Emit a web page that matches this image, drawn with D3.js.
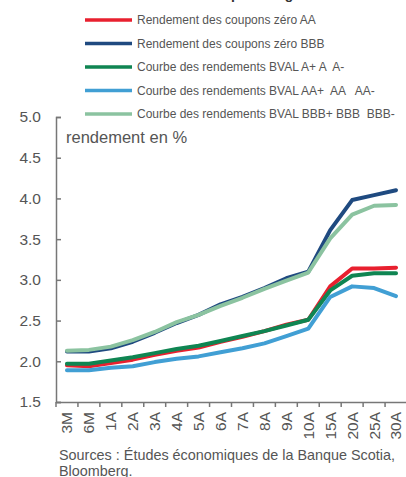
<!DOCTYPE html>
<html><head><meta charset="utf-8">
<script src="https://cdn.jsdelivr.net/npm/d3@7"></script>
<style>body{margin:0;background:#fff}svg{display:block}text{font-family:"Liberation Sans",Arial,sans-serif}</style>
</head><body>
<script>
const categories = ["3M","6M","1A","2A","3A","4A","5A","6A","7A","8A","9A","10A","15A","20A","25A","30A"];
const zeroAA   = [1.95,1.94,1.98,2.02,2.08,2.13,2.17,2.24,2.30,2.37,2.45,2.51,2.92,3.14,3.14,3.15];
const zeroBBB  = [2.12,2.12,2.16,2.24,2.35,2.47,2.57,2.70,2.79,2.90,3.02,3.10,3.61,3.98,4.04,4.10];
const bvalA    = [1.97,1.97,2.01,2.05,2.10,2.15,2.19,2.25,2.31,2.37,2.44,2.51,2.87,3.05,3.08,3.08];
const bvalAA   = [1.89,1.89,1.92,1.94,1.99,2.03,2.06,2.11,2.16,2.22,2.31,2.40,2.79,2.92,2.90,2.80];
const bvalBBB  = [2.13,2.14,2.18,2.26,2.36,2.48,2.57,2.68,2.78,2.89,2.99,3.09,3.51,3.80,3.91,3.92];
const yTicks   = [1.5,2.0,2.5,3.0,3.5,4.0,4.5,5.0];
const seriesNames = ["Rendement des coupons zéro AA","Rendement des coupons zéro BBB","Courbe des rendements BVAL A+ A  A-","Courbe des rendements BVAL AA+  AA   AA-","Courbe des rendements BVAL BBB+ BBB  BBB-"];
const seriesColors = ["#e8202f","#1f4a80","#0f8552","#419fd4","#8bc3a0"];
const seriesValues = [zeroAA, zeroBBB, bvalA, bvalAA, bvalBBB];

const W = 406, H = 477;
const svg = d3.select("body").append("svg").attr("width", W).attr("height", H);

// partially clipped title (as in the reference, only descenders show)
svg.append("text").attr("x", 229).attr("y", -1).attr("text-anchor","end")
  .attr("font-size", 14).attr("font-weight","bold").attr("fill","#333").text("Courbes de rendement");
svg.append("text").attr("x", 231).attr("y", -1)
  .attr("font-size", 14).attr("font-weight","bold").attr("fill","#333").text("par catégorie");

const x = d3.scaleBand().domain(categories).range([56, 407]);
const y = d3.scaleLinear().domain([1.5, 5.0]).range([402, 117]);

// legend
const leg = svg.append("g");
seriesNames.forEach((n, i) => {
  const yy = 20 + i * 23.5;
  leg.append("line").attr("x1", 85).attr("x2", 132).attr("y1", yy).attr("y2", yy)
    .attr("stroke", seriesColors[i]).attr("stroke-width", 3.5);
  leg.append("text").attr("x", 137).attr("y", yy + 4).attr("font-size", 12).attr("fill", "#555")
    .style("white-space","pre").text(n);
});

// y axis
const yAxis = svg.append("g").attr("transform", "translate(56,0)")
  .call(d3.axisRight(y).tickValues(yTicks).tickSize(5).tickFormat(d3.format(".1f")));
yAxis.select(".domain").attr("stroke", "#777").attr("stroke-width", 1.5);
yAxis.selectAll(".tick line").attr("stroke", "#777").attr("stroke-width", 1.5);
yAxis.selectAll(".tick text").attr("x", -15).attr("text-anchor", "end").attr("font-size", 15.5)
  .attr("fill", "#555").style("font-family", '"Liberation Sans",Arial,sans-serif');

// x axis with ticks between categories
const xAxis = svg.append("g").attr("transform", "translate(0,402)")
  .call(d3.axisBottom(x).tickSize(0).tickSizeOuter(0));
xAxis.select(".domain").attr("stroke", "#777").attr("stroke-width", 1.5);
xAxis.selectAll(".tick text").attr("transform", "rotate(-90)").attr("text-anchor", "end")
  .attr("x", -10).attr("y", 0).attr("dy", "0.35em").attr("font-size", 15.5).attr("fill", "#555")
  .style("font-family", '"Liberation Sans",Arial,sans-serif');
const boundaries = categories.map(c => x(c)).concat([x(categories[categories.length-1]) + x.bandwidth()]);
svg.append("g").selectAll("line").data(boundaries).join("line")
  .attr("x1", d => d).attr("x2", d => d).attr("y1", 402).attr("y2", 407)
  .attr("stroke", "#777").attr("stroke-width", 1.5);

svg.append("text").attr("x", 66).attr("y", 143).attr("font-size", 16.5).attr("fill", "#555").text("rendement en %");

// lines
const line = d3.line().x((d, i) => x(categories[i]) + x.bandwidth() / 2).y(d => y(d));
[0, 1, 2, 3, 4].forEach(i => {
  svg.append("path").datum(seriesValues[i]).attr("d", line).attr("fill", "none")
    .attr("stroke", seriesColors[i]).attr("stroke-width", 4).attr("stroke-linecap", "round")
    .attr("stroke-linejoin", "round");
});

// source
svg.append("text").attr("x", 59).attr("y", 460).attr("font-size", 14.4).attr("fill", "#555")
  .text("Sources : Études économiques de la Banque Scotia,");
svg.append("text").attr("x", 59).attr("y", 476).attr("font-size", 14.4).attr("fill", "#555")
  .text("Bloomberg.");
</script>
</body></html>
